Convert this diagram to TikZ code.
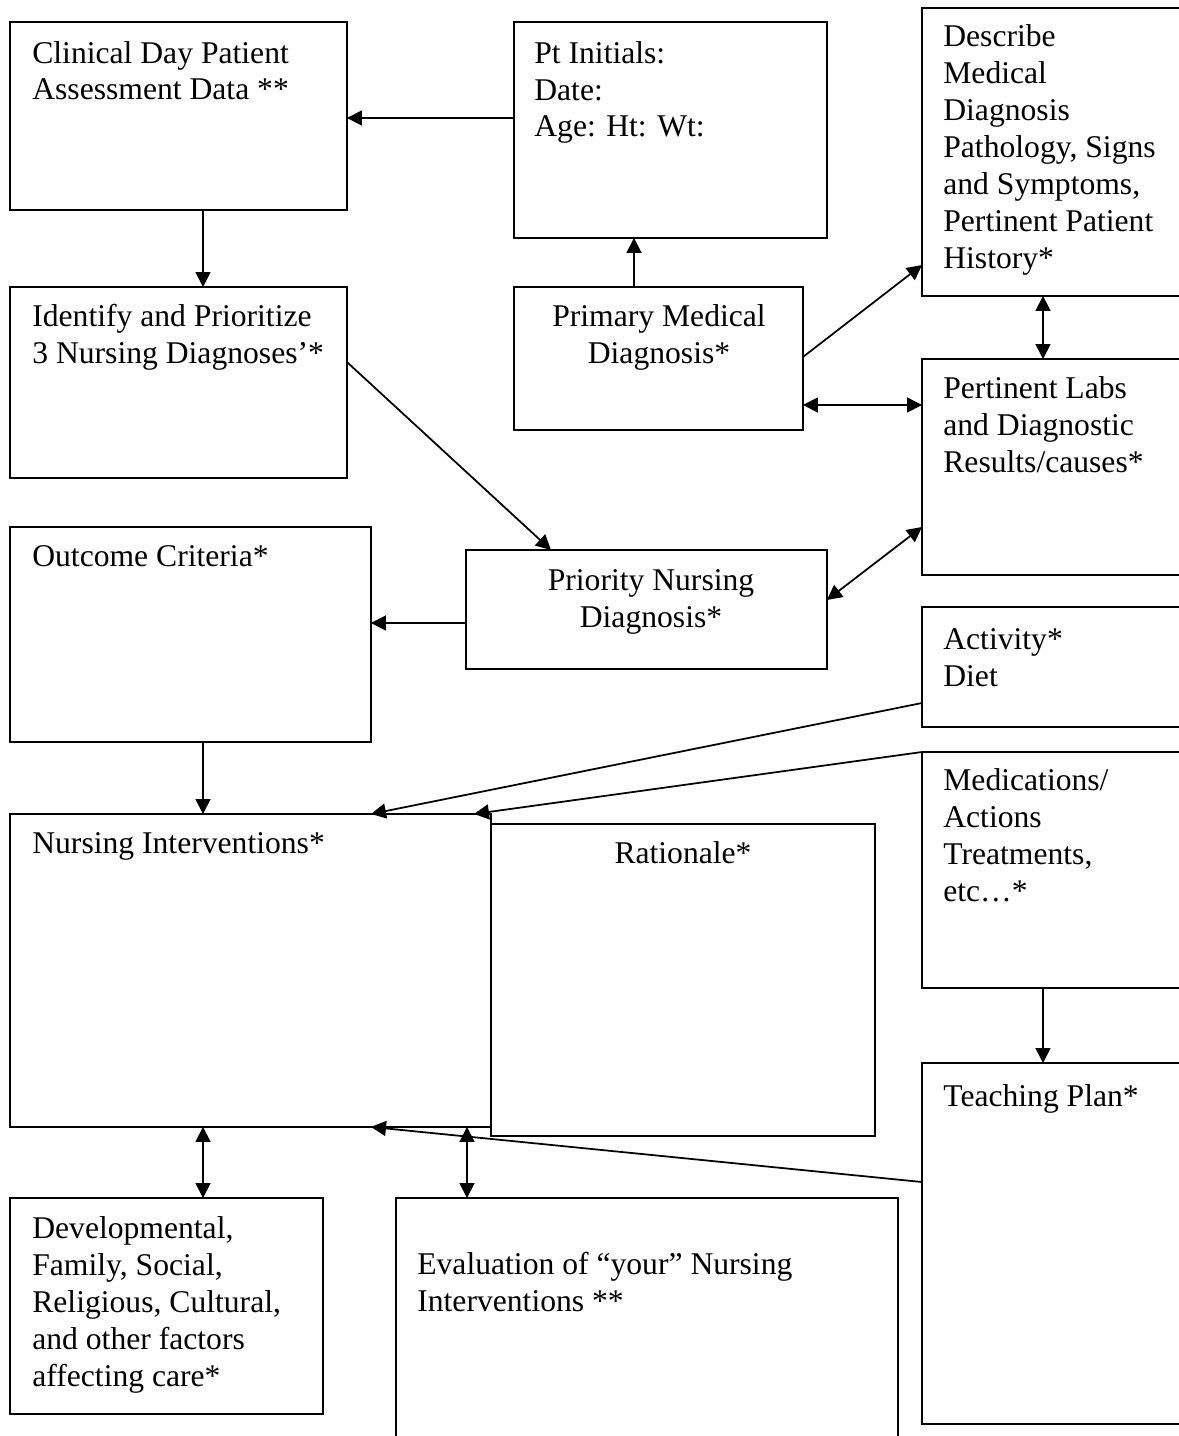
\documentclass[tikz,border=0pt]{standalone}
\usepackage{fontspec}
\setmainfont{Liberation Serif}
\usetikzlibrary{arrows.meta,positioning,calc}

\begin{document}
\begin{tikzpicture}[
  x=0.02cm, y=-0.02cm,
  box/.style={draw, line width=1pt, anchor=north west, inner sep=0pt, outer sep=0pt},
  txt/.style={align=left, anchor=base west, inner sep=0pt, font=\fontsize{18}{21}\selectfont},
  ctxt/.style={align=center, anchor=base, inner sep=0pt, font=\fontsize{18}{21}\selectfont},
  arr/.style={-{Triangle[length=0.3cm,width=0.3cm]}, line width=1pt},
  dblarr/.style={{Triangle[length=0.3cm,width=0.3cm]}-{Triangle[length=0.3cm,width=0.3cm]}, line width=1pt}
]
\useasboundingbox (0,0) rectangle (1178,1436);

% boxes (the right column runs off the page)
\node[box, minimum width=6.74cm, minimum height=3.76cm] (clin) at (10,22) {};
\node[box, minimum width=6.26cm, minimum height=4.32cm] (pt) at (514,22) {};
\node[box, minimum width=5.56cm, minimum height=5.76cm] (desc) at (922,8) {};
\node[box, minimum width=6.74cm, minimum height=3.82cm] (ident) at (10,287) {};
\node[box, minimum width=5.78cm, minimum height=2.86cm] (prim) at (514,287) {};
\node[box, minimum width=5.56cm, minimum height=4.32cm] (labs) at (922,359) {};
\node[box, minimum width=7.22cm, minimum height=4.30cm] (outc) at (10,527) {};
\node[box, minimum width=7.22cm, minimum height=2.38cm] (prio) at (466,550) {};
\node[box, minimum width=5.56cm, minimum height=2.40cm] (act) at (922,607) {};
\node[box, minimum width=5.56cm, minimum height=4.72cm] (meds) at (922,752) {};
\node[box, minimum width=9.62cm, minimum height=6.26cm] (interv) at (10,814) {};
\node[box, minimum width=7.68cm, minimum height=6.24cm] (rat) at (491,824) {};
\node[box, minimum width=5.56cm, minimum height=7.22cm] (teach) at (922,1063) {};
\node[box, minimum width=6.26cm, minimum height=4.32cm] (devel) at (10,1198) {};
\node[box, minimum width=10.04cm, minimum height=5.20cm] (evalu) at (396,1198) {};

% texts (base anchor = baseline of the last line)
\node[txt] (clin-t) at (32,100) {Clinical Day Patient\\Assessment Data **};
\node[txt] (pt-t) at (534,137) {Pt Initials:\\Date:\\Age: Ht: Wt:};
\node[txt] (desc-t) at (943,268) {Describe\\Medical\\Diagnosis\\Pathology, Signs\\and Symptoms,\\Pertinent Patient\\History*};
\node[txt] (ident-t) at (32,363) {Identify and Prioritize\\3 Nursing Diagnoses'*};
\node[ctxt] (prim-t) at (659,363) {Primary Medical\\Diagnosis*};
\node[txt] (labs-t) at (943,472) {Pertinent Labs\\and Diagnostic\\Results/causes*};
\node[txt] (outc-t) at (32,566) {Outcome Criteria*};
\node[ctxt] (prio-t) at (651,627) {Priority Nursing\\Diagnosis*};
\node[txt] (act-t) at (943,686) {Activity*\\Diet};
\node[txt] (meds-t) at (943,901) {Medications/\\Actions\\Treatments,\\etc…*};
\node[txt] (interv-t) at (32,853) {Nursing Interventions*};
\node[ctxt] (rat-t) at (683,863) {Rationale*};
\node[txt] (teach-t) at (943,1106) {Teaching Plan*};
\node[txt] (devel-t) at (32,1386) {Developmental,\\Family, Social,\\Religious, Cultural,\\and other factors\\affecting care*};
\node[txt] (evalu-t) at (417,1311) {Evaluation of “your” Nursing\\Interventions **};

% connectors
\draw[arr] (pt.west |- 0,118) -- (clin.east |- 0,118);
\draw[arr] (clin.south -| 203,0) -- (ident.north -| 203,0);
\draw[arr] (prim.north -| 634,0) -- (pt.south -| 634,0);
\draw[arr] (prim.east |- 0,357) -- (desc.west |- 0,265);
\draw[dblarr] (desc.south -| 1043,0) -- (labs.north -| 1043,0);
\draw[dblarr] (prim.east |- 0,405) -- (labs.west |- 0,405);
\draw[arr] (ident.east |- 0,362) -- (prio.north -| 551,0);
\draw[dblarr] (prio.east |- 0,600) -- (labs.west |- 0,527);
\draw[arr] (prio.west |- 0,623) -- (outc.east |- 0,623);
\draw[arr] (outc.south -| 203,0) -- (interv.north -| 203,0);
\draw[arr] (act.west |- 0,703) -- (interv.north -| 371,0);
\draw[arr] (meds.north west) -- (interv.north -| 474,0);
\draw[arr] (meds.south -| 1043,0) -- (teach.north -| 1043,0);
\draw[arr] (teach.west |- 0,1182) -- (interv.south -| 371,0);
\draw[dblarr] (interv.south -| 203,0) -- (devel.north -| 203,0);
\draw[dblarr] (interv.south -| 467,0) -- (evalu.north -| 467,0);

\end{tikzpicture}
\end{document}
